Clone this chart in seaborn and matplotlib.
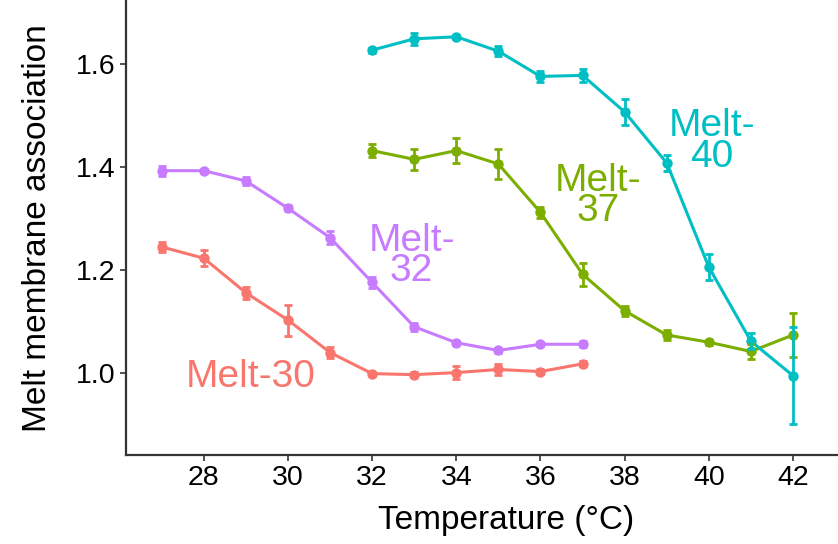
import matplotlib
matplotlib.use("Agg")
import matplotlib.pyplot as plt
import seaborn as sns
import pandas as pd

# Temperatures (°C) for each construct
temp_low = [27, 28, 29, 30, 31, 32, 33, 34, 35, 36, 37]
temp_high = [32, 33, 34, 35, 36, 37, 38, 39, 40, 41, 42]

# Melt-30
m30_mean = [1.244, 1.222, 1.155, 1.102, 1.039, 0.998, 0.996, 1.000, 1.006, 1.002, 1.017]
m30_err = [0.010, 0.016, 0.012, 0.030, 0.010, 0.004, 0.005, 0.012, 0.010, 0.005, 0.005]
# Melt-32
m32_mean = [1.392, 1.392, 1.372, 1.319, 1.262, 1.175, 1.089, 1.058, 1.043, 1.055, 1.055]
m32_err = [0.010, 0.004, 0.007, 0.006, 0.012, 0.010, 0.008, 0.004, 0.004, 0.004, 0.006]
# Melt-37
m37_mean = [1.431, 1.414, 1.431, 1.405, 1.311, 1.191, 1.120, 1.073, 1.059, 1.041, 1.073]
m37_err = [0.012, 0.020, 0.025, 0.030, 0.010, 0.022, 0.010, 0.010, 0.005, 0.015, 0.042]
# Melt-40
m40_mean = [1.626, 1.648, 1.652, 1.624, 1.575, 1.577, 1.506, 1.407, 1.205, 1.061, 0.994]
m40_err = [0.005, 0.012, 0.003, 0.010, 0.010, 0.012, 0.025, 0.015, 0.025, 0.015, 0.094]

names = ["Melt-30", "Melt-32", "Melt-37", "Melt-40"]
colors = ["#F8766D", "#C77CFF", "#7CAE00", "#00BFC4"]

# label text and where it sits (data coords)
label_text = ["Melt-30", "Melt-\n32", "Melt-\n37", "Melt-\n40"]
label_x = [29.12, 32.94, 37.37, 40.07]
label_y = [0.992, 1.226, 1.343, 1.449]

frames = []
for name, t, m, e in [("Melt-30", temp_low, m30_mean, m30_err),
                      ("Melt-32", temp_low, m32_mean, m32_err),
                      ("Melt-37", temp_high, m37_mean, m37_err),
                      ("Melt-40", temp_high, m40_mean, m40_err)]:
    frames.append(pd.DataFrame({"temp": t, "mean": m, "err": e, "construct": name}))
df = pd.concat(frames, ignore_index=True)

sns.set_theme(style="ticks")
plt.rcParams["font.family"] = ["Liberation Sans", "DejaVu Sans"]

fig = plt.figure(figsize=(8.38, 5.44), dpi=100)
ax = fig.add_axes([0.1498, 0.1636, 0.8502, 0.8351])

palette = dict(zip(names, colors))
sns.lineplot(data=df, x="temp", y="mean", hue="construct", palette=palette,
             marker="o", markersize=7.5, markeredgewidth=0, linewidth=2.2,
             legend=False, ax=ax)

for name in names:
    sub = df[df["construct"] == name]
    ax.errorbar(sub["temp"], sub["mean"], yerr=sub["err"], fmt="none",
                ecolor=palette[name], elinewidth=2, capsize=3.2, capthick=2)

for txt, lx, ly, c in zip(label_text, label_x, label_y, colors):
    ax.text(lx, ly, txt, color=c, fontsize=28, ha="center", va="center",
            linespacing=0.8)

ax.set_xlim(26.14, 43.07)
ax.set_ylim(0.84, 1.722)
ax.set_xticks([28, 30, 32, 34, 36, 38, 40, 42])
ax.set_yticks([1.0, 1.2, 1.4, 1.6])
ax.set_yticklabels(["1.0", "1.2", "1.4", "1.6"])
ax.set_xlabel("Temperature (°C)", fontsize=24, color="black", labelpad=10, x=0.534)
ax.set_ylabel("Melt membrane association", fontsize=24, color="black", labelpad=16)
ax.tick_params(axis="both", labelsize=20.5, colors="#333333", labelcolor="black",
               length=4, width=1.2)
sns.despine(ax=ax)
for s in ["left", "bottom"]:
    ax.spines[s].set_linewidth(1.6)
    ax.spines[s].set_color("#333333")

fig.savefig("out.png", dpi=100)
